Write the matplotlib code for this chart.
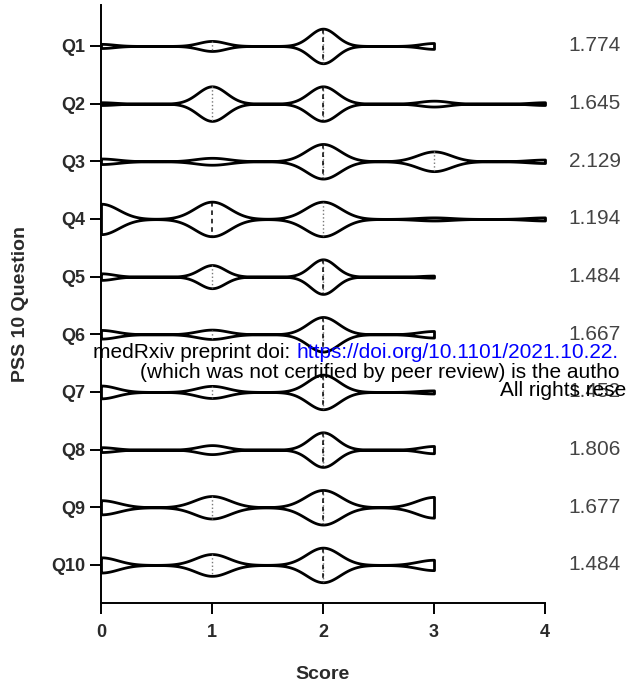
import numpy as np
import matplotlib.pyplot as plt

questions = ['Q1', 'Q2', 'Q3', 'Q4', 'Q5', 'Q6', 'Q7', 'Q8', 'Q9', 'Q10']
scores = [0, 1, 2, 3, 4]
# number of answers per score (0..4)
counts = [
    [12, 29, 100, 17, 0],
    [8, 100, 100, 17, 8],
    [16, 20, 100, 57, 10],
    [88, 100, 100, 9, 9],
    [19, 67, 100, 6, 0],
    [25, 27, 100, 19, 0],
    [37, 35, 100, 9, 0],
    [14, 26, 100, 21, 0],
    [41, 65, 100, 60, 0],
    [44, 63, 100, 30, 0],
]
side_values = ['1.774', '1.645', '2.129', '1.194', '1.484', '1.667', '1.452', '1.806', '1.677', '1.484']

plt.rcParams['font.family'] = ['Liberation Sans']

data = [np.repeat(scores, c).astype(float) for c in counts]
pos = np.arange(1, len(questions) + 1)

fig = plt.figure(figsize=(6.28, 6.92), dpi=100)
ax = fig.add_axes([101/628, 1 - 603/692, 444/628, 598/692])

parts = ax.violinplot(data, positions=pos, orientation='horizontal', widths=0.6,
                      showextrema=False, bw_method=0.16, points=300)
for b in parts['bodies']:
    b.set_facecolor('white')
    b.set_alpha(1)
    b.set_edgecolor('black')
    b.set_linewidth(2.0)
    b.set_clip_on(False)
    b.set_zorder(3)

# median (dashed) and quartiles (dotted)
for b, d, p in zip(parts['bodies'], data, pos):
    v = b.get_paths()[0].vertices
    up = v[v[:, 1] > p]
    up = up[np.argsort(up[:, 0])]
    q1, med, q3 = np.percentile(d, [25, 50, 75])
    for q, ls, lw, col in [(q1, ':', 1.0, '#777777'), (q3, ':', 1.0, '#777777'), (med, (0, (3, 2.5)), 1.1, 'black')]:
        if q <= d.min() + 0.01 or q >= d.max() - 0.01:
            continue
        h = np.interp(q, up[:, 0], up[:, 1]) - p
        ax.plot([q, q], [p - h, p + h], ls=ls, lw=lw, color=col, zorder=4)

ax.set_xlim(0, 4)
ax.set_ylim(10.66, 0.29)
ax.set_xticks([0, 1, 2, 3, 4])
ax.set_yticks(pos)
ax.set_yticklabels(questions)
for s in ['top', 'right']:
    ax.spines[s].set_visible(False)
for s in ['left', 'bottom']:
    ax.spines[s].set_linewidth(1.4)
ax.tick_params(length=8, width=1.4, labelsize=13, colors='black', labelcolor='#2a2a2a')
ax.tick_params(axis='x', pad=7)
for lab in ax.get_xticklabels() + ax.get_yticklabels():
    lab.set_fontweight('bold')
ax.set_xlabel('Score', fontsize=14, fontweight='bold', color='#2a2a2a', labelpad=18)
ax.set_ylabel('PSS 10 Question', fontsize=14, fontweight='bold', color='#2a2a2a', labelpad=16)

for p, t in zip(pos, side_values):
    ax.text(621/628, p, t, transform=ax.get_yaxis_transform().__class__(fig.transFigure, ax.transData),
            ha='right', va='center', fontsize=15, color='#444444')

# medRxiv watermark (cut at the right edge as in the source)
wm = dict(fontsize=15, va='center', zorder=10)
t1 = fig.text(93/628, 1 - 352/692, 'medRxiv preprint doi: ', color='black', **wm)
fig.canvas.draw()
bb = t1.get_window_extent()
fig.text(bb.x1 / fig.bbox.width, 1 - 352/692, 'https://doi.org/10.1101/2021.10.22.', color='#0000ff', **wm)
fig.text(140/628, 1 - 372/692, '(which was not certified by peer review) is the autho', color='black', **wm)
fig.text(500/628, 1 - 390/692, 'All rights rese', color='black', **wm)

fig.savefig('out.png', dpi=100)
